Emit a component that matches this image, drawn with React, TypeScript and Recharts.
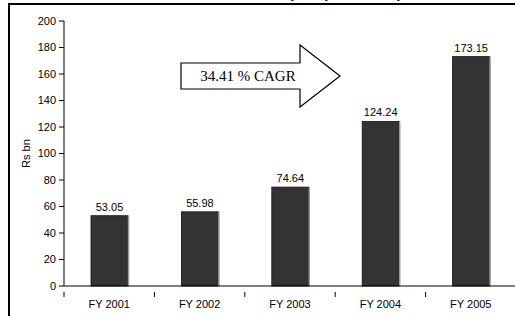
import React from "react";
import { BarChart, Bar, XAxis, YAxis, LabelList } from "recharts";

const categories = ["FY 2001", "FY 2002", "FY 2003", "FY 2004", "FY 2005"];
const values = [53.05, 55.98, 74.64, 124.24, 173.15];
const yTicks = [0, 20, 40, 60, 80, 100, 120, 140, 160, 180, 200];
const yLabel = "Rs bn";
const arrowText = "34.41 % CAGR";
const titleText = "Disbursements by Corporate Groups";

const data = categories.map((c, i) => ({ name: c, value: values[i] }));

const FONT = "'Liberation Sans', Arial, sans-serif";

const BarShape = (props: any) => {
  const { x, y, width, height } = props;
  if (height <= 0) return null;
  return (
    <g>
      <rect x={x} y={y} width={width} height={height} fill="#333333" stroke="#111" strokeWidth={0.8} />
      <line x1={x + width + 0.5} y1={y} x2={x + width + 0.5} y2={y + height} stroke="#9a9a9a" strokeWidth={1.5} />
    </g>
  );
};

const XTick = (props: any) => {
  const { x, y, index } = props;
  const half = 45.2;
  return (
    <g>
      <line x1={x - half} y1={y - 2} x2={x - half} y2={y + 3} stroke="#000" />
      {index === categories.length - 1 && (
        <line x1={x + half} y1={y - 2} x2={x + half} y2={y + 3} stroke="#000" />
      )}
      <text x={x} y={y + 14} textAnchor="middle" fontSize={11} fontFamily={FONT} fill="#000">
        {props.payload.value}
      </text>
    </g>
  );
};

export default function App() {
  return (
    <div style={{ position: "absolute", left: 0, top: 0, width: 515, height: 316, overflow: "hidden", background: "#fff" }}>
      <div
        style={{
          position: "absolute",
          left: 8,
          top: 3,
          width: 540,
          height: 340,
          border: "2px solid #000",
          boxSizing: "border-box",
        }}
      />
      <div style={{ position: "absolute", left: 0, top: 0 }}>
        <BarChart
          width={530}
          height={316}
          data={data}
          margin={{ top: 21, right: 14, bottom: 0, left: 0 }}
          barSize={37}
        >
          <YAxis
            type="number"
            domain={[0, 200]}
            ticks={yTicks}
            width={64}
            tickSize={5}
            tickMargin={3}
            axisLine={{ stroke: "#000" }}
            tickLine={{ stroke: "#000" }}
            tick={{ fontSize: 11, fontFamily: FONT, fill: "#000" }}
            label={{
              value: yLabel,
              angle: -90,
              position: "insideLeft",
              offset: 26,
              style: { fontSize: 11, fontFamily: FONT, fill: "#000", textAnchor: "middle" },
            }}
            interval={0}
          />
          <XAxis
            dataKey="name"
            height={30}
            axisLine={{ stroke: "#000" }}
            tickLine={false}
            tick={<XTick />}
            interval={0}
          />
          <Bar dataKey="value" shape={<BarShape />} isAnimationActive={false}>
            <LabelList
              dataKey="value"
              position="top"
              offset={5}
              formatter={(v: any) => Number(v).toFixed(2)}
              style={{ fontSize: 11, fontFamily: FONT, fill: "#000" }}
            />
          </Bar>
        </BarChart>
      </div>
      <svg style={{ position: "absolute", left: 0, top: 0 }} width={515} height={316}>
        <text x={300} y={-2.5} textAnchor="middle" fontSize={15} fontFamily="'Liberation Serif', serif" fill="#000">
          {titleText}
        </text>
        <polygon
          points="181,63 300,63 300,45 340,76 300,107 300,89 181,89"
          fill="#fff"
          stroke="#000"
          strokeWidth={1.2}
        />
        <text x={248} y={81} textAnchor="middle" fontSize={15} fontFamily="'Liberation Serif', serif" fill="#000">
          {arrowText}
        </text>
      </svg>
    </div>
  );
}
